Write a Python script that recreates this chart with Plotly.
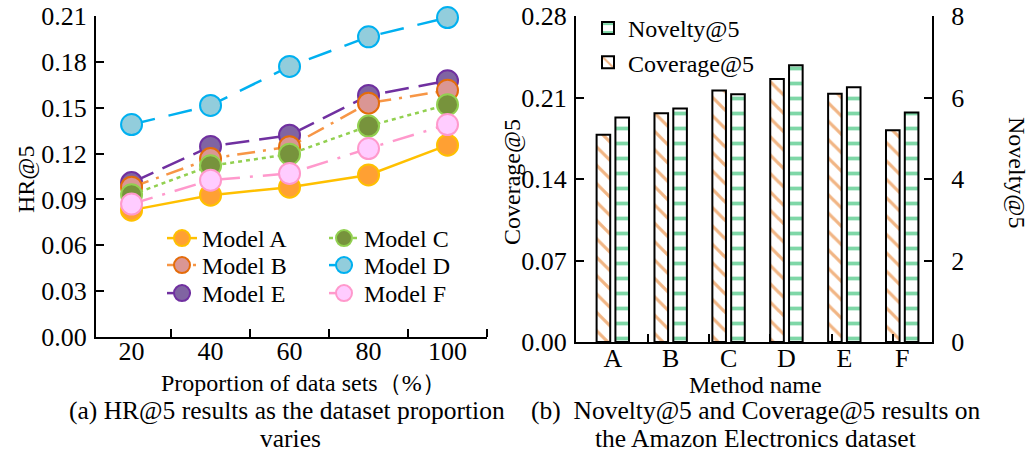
import plotly.graph_objects as go

# ---------------- data ----------------
proportions = [20, 40, 60, 80, 100]
hr_model_a = [0.083, 0.0928, 0.098, 0.106, 0.1255]
hr_model_b = [0.098, 0.1167, 0.1245, 0.153, 0.1614]
hr_model_c = [0.093, 0.112, 0.1196, 0.138, 0.152]
hr_model_d = [0.139, 0.1515, 0.177, 0.1964, 0.209]
hr_model_e = [0.101, 0.1247, 0.132, 0.158, 0.1676]
hr_model_f = [0.087, 0.1026, 0.107, 0.1233, 0.139]

methods = ["A", "B", "C", "D", "E", "F"]
coverage5 = [0.178, 0.1965, 0.216, 0.2258, 0.2133, 0.1818]
novelty5 = [5.51, 5.73, 6.08, 6.79, 6.25, 5.63]

hr_ticks = [0.00, 0.03, 0.06, 0.09, 0.12, 0.15, 0.18, 0.21]
cov_ticks = [0.00, 0.07, 0.14, 0.21, 0.28]
nov_ticks = [0, 2, 4, 6, 8]

# ---------------- styling ----------------
FONT = "Liberation Serif"
FS = 24
TFS = 26
CFS = 25.5
W, H = 1035, 455

def px_x(p):
    return p / W

def px_y(p):
    return 1 - p / H

# name: (line color, dash, marker fill, marker border, legend id)
styles = {
    "Model A": ("#FFC000", "solid", "#FFA033", "#FFC000", "legend"),
    "Model C": ("#92D050", "4px,4px", "#77933C", "#92D050", "legend"),
    "Model B": ("#F79646", "18px,8px,3px,8px", "#DA9694", "#E46C0A", "legend3"),
    "Model D": ("#00B0F0", "24px,14px", "#92CDDC", "#00B0F0", "legend3"),
    "Model E": ("#7030A0", "24px,10px", "#8064A2", "#7030A0", "legend4"),
    "Model F": ("#FF99CC", "22px,10px,3px,10px", "#FFCCFF", "#FF99CC", "legend4"),
}
legend_order = ["Model A", "Model C", "Model B", "Model D", "Model E", "Model F"]
series = {
    "Model A": hr_model_a, "Model B": hr_model_b, "Model C": hr_model_c,
    "Model D": hr_model_d, "Model E": hr_model_e, "Model F": hr_model_f,
}
draw_order = ["Model D", "Model A", "Model E", "Model B", "Model C", "Model F"]

fig = go.Figure()
for name in draw_order:
    lc, dash, fc, bc, leg = styles[name]
    fig.add_trace(go.Scatter(
        x=proportions, y=series[name], name=name, mode="lines+markers",
        line=dict(color=lc, width=2.5, dash=dash),
        marker=dict(size=21, color=fc, line=dict(color=bc, width=2)),
        xaxis="x", yaxis="y", legend=leg, legendrank=legend_order.index(name) + 1,
        cliponaxis=False,
    ))

fig.add_trace(go.Bar(
    x=list(range(len(methods))), y=novelty5, name="Novelty@5",
    xaxis="x2", yaxis="y3", width=0.235, offset=0.045,
    marker=dict(color="white", line=dict(color="black", width=2),
                pattern=dict(shape="-", fgcolor="#00B050", bgcolor="white", size=15, solidity=0.25)),
    legend="legend2", legendrank=1,
))
fig.add_trace(go.Bar(
    x=list(range(len(methods))), y=coverage5, name="Coverage@5",
    xaxis="x2", yaxis="y2", width=0.235, offset=-0.28,
    marker=dict(color="white", line=dict(color="black", width=2),
                pattern=dict(shape="\\", fgcolor="#E46C0A", bgcolor="white", size=13, solidity=0.25)),
    legend="legend2", legendrank=2,
))

axis_common = dict(showgrid=False, zeroline=False, showline=True, linecolor="black", linewidth=2,
                   tickfont=dict(family=FONT, size=TFS, color="black"), ticks="inside",
                   ticklen=8, tickwidth=2, tickcolor="black")

def row_legend(top_px):
    return dict(orientation="h", xref="paper", yref="paper", x=px_x(162), y=px_y(top_px),
                xanchor="left", yanchor="top", entrywidth=117, bgcolor="rgba(0,0,0,0)",
                font=dict(family=FONT, size=FS), traceorder="normal")

fig.update_layout(
    width=W, height=H, margin=dict(l=0, r=0, t=0, b=0, autoexpand=False),
    paper_bgcolor="white", plot_bgcolor="white",
    font=dict(family=FONT, size=FS, color="black"),
    showlegend=True, barmode="overlay",
    xaxis=dict(**{**axis_common, "ticks": ""}, domain=[px_x(96), px_x(487)], range=[11, 110],
               tickvals=proportions, anchor="y", ticklabelstandoff=-10,
               minor=dict(tickmode="array", tickvals=[30, 50, 70, 90, 110], ticks="inside",
                          ticklen=8, tickwidth=2, tickcolor="black", showgrid=False)),
    yaxis=dict(**axis_common, domain=[px_y(337), px_y(16)], range=[0, 0.21],
               tickvals=hr_ticks, tickformat=".2f", anchor="x", ticklabelstandoff=2),
    xaxis2=dict(**{**axis_common, "ticks": ""}, domain=[px_x(576), px_x(932)], range=[-0.636, 5.515],
                tickvals=list(range(len(methods))), ticktext=methods, anchor="y2", ticklabelstandoff=-8,
                minor=dict(tickmode="array", tickvals=[0.6, 1.66, 2.72, 3.78, 4.84], ticks="inside",
                           ticklen=8, tickwidth=2, tickcolor="black", showgrid=False)),
    yaxis2=dict(**axis_common, domain=[px_y(342), px_y(16)], range=[0, 0.28],
                tickvals=cov_ticks, tickformat=".2f", anchor="x2", ticklabelstandoff=2),
    yaxis3=dict(**axis_common, range=[0, 8], tickvals=nov_ticks, overlaying="y2",
                side="right", anchor="x2", ticklabelstandoff=12),
    legend=row_legend(216),
    legend3=row_legend(243),
    legend4=row_legend(271),
    legend2=dict(orientation="v", xref="paper", yref="paper", x=px_x(588), y=px_y(6),
                 xanchor="left", yanchor="top",
                 bgcolor="rgba(0,0,0,0)", font=dict(family=FONT, size=FS), traceorder="normal"),
)

annotations = [
    dict(text="HR@5", x=px_x(26), y=px_y(180), textangle=-90, size=FS),
    dict(text="Proportion of data sets（%）", x=px_x(303), y=px_y(383), size=FS),
    dict(text="(a) HR@5 results as the dataset proportion", x=px_x(287), y=px_y(410), size=CFS),
    dict(text="varies", x=px_x(290), y=px_y(438), size=CFS),
    dict(text="Coverage@5", x=px_x(512), y=px_y(182), textangle=-90, size=FS),
    dict(text="Novelty@5", x=px_x(1017), y=px_y(172), textangle=90, size=FS),
    dict(text="Method name", x=px_x(755), y=px_y(385), size=FS),
    dict(text="(b)  Novelty@5 and Coverage@5 results on", x=px_x(755), y=px_y(410), size=CFS),
    dict(text="the Amazon Electronics dataset", x=px_x(755), y=px_y(438), size=CFS),
]
for a in annotations:
    sz = a.pop("size")
    fig.add_annotation(xref="paper", yref="paper", showarrow=False, xanchor="center", yanchor="middle",
                       font=dict(family=FONT, size=sz, color="black"), **a)

fig.write_html("out.html", config={"displayModeBar": False},
               post_script="document.body.style.margin='0';")
